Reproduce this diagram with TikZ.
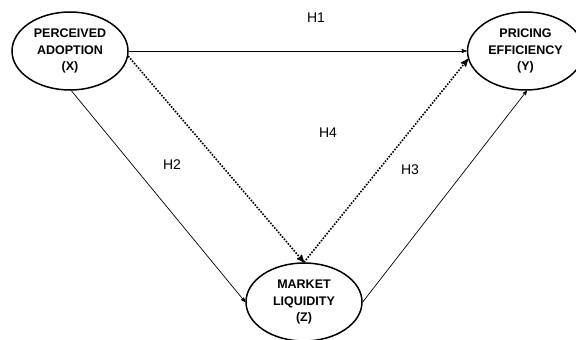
\documentclass[tikz,border=0pt]{standalone}
\usepackage{fontspec}
\setmainfont{Liberation Sans}
\usetikzlibrary{arrows,positioning,shapes.geometric}
\tikzset{
    construct/.style={
           ellipse,
           draw=black,
           line width=1.5pt,
           minimum width=116pt,
           minimum height=78pt,
           inner sep=0pt,
           align=center,
           font=\bfseries\fontsize{12.5}{16.5}\selectfont,
           },
}

\begin{document}
\begin{tikzpicture}[
  x=1pt,y=-1pt,
  ->,>=stealth',
  hyp/.style={font=\fontsize{14}{16}\selectfont},
  direct/.style={line width=0.7pt},
  mediated/.style={line width=1.6pt,dash pattern=on 1.6pt off 1.4pt}]
\useasboundingbox (0,0) rectangle (576,340);
\node[construct](adopt) at (70,51){PERCEIVED\\ADOPTION\\(X)};
\node[construct,right=338pt of adopt](pricing){PRICING\\EFFICIENCY\\(Y)};
\node[construct](liquid) at (304,302){MARKET\\LIQUIDITY\\(Z)};
\node[hyp](h1) at (316,18){H1};
\node[hyp](h2) at (172,165){H2};
\node[hyp](h3) at (410,170){H3};
\node[hyp](h4) at (328,133){H4};

\path (adopt) edge[line width=0.9pt] (pricing)
      (adopt.-88) edge[direct] (liquid.west)
      (liquid.east) edge[direct] (pricing.-88)
      (adopt.-5) edge[mediated] (liquid.north)
      (liquid.north) edge[mediated] (pricing.188);
\end{tikzpicture}
\end{document}
